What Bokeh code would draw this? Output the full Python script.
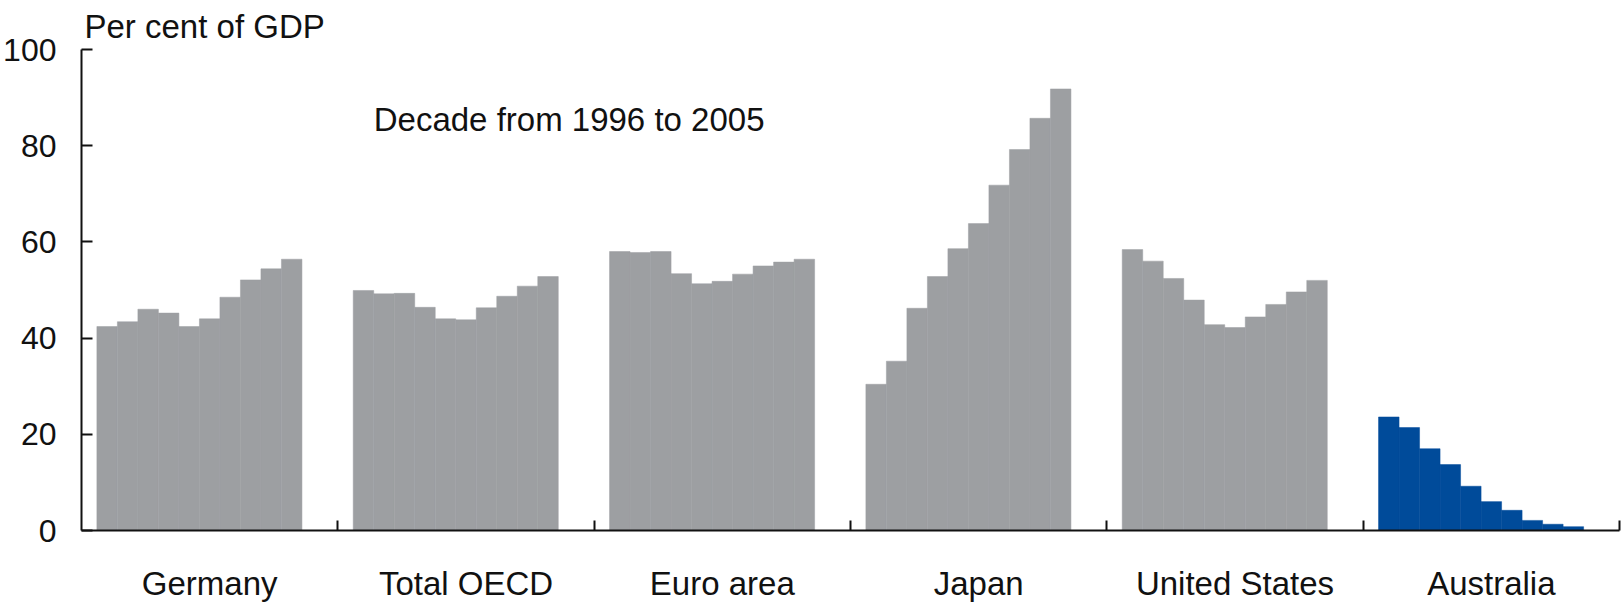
from bokeh.plotting import figure
from bokeh.models import Range1d, FixedTicker, Label, ColumnDataSource
from bokeh.embed import file_html
from bokeh.resources import INLINE

# ---- data ----
countries = ["Germany", "Total OECD", "Euro area", "Japan", "United States", "Australia"]
years = list(range(1996, 2006))
germany = [42.4, 43.4, 46.0, 45.2, 42.4, 44.0, 48.5, 52.1, 54.4, 56.4]
total_oecd = [49.9, 49.2, 49.3, 46.4, 44.0, 43.8, 46.3, 48.7, 50.8, 52.8]
euro_area = [58.0, 57.8, 58.0, 53.4, 51.3, 51.8, 53.3, 55.0, 55.8, 56.4]
japan = [30.4, 35.2, 46.2, 52.8, 58.6, 63.8, 71.8, 79.2, 85.7, 91.8]
united_states = [58.4, 56.0, 52.4, 47.9, 42.8, 42.2, 44.4, 47.0, 49.6, 52.0]
australia = [23.6, 21.4, 17.0, 13.7, 9.2, 6.0, 4.2, 2.1, 1.3, 0.8]
series = [germany, total_oecd, euro_area, japan, united_states, australia]
y_ticks = [0, 20, 40, 60, 80, 100]
unit_label = "Per cent of GDP"
note = "Decade from 1996 to 2005"

GRAY = "#9d9fa2"
BLUE = "#004b9a"
FONT = "Liberation Sans"
INK = "#111111"

# ---- layout of groups ----
slot = 12.5      # width of one country group in bar units
offset = 0.75    # gap before the first bar of a group
n_groups = len(countries)

xs, tops, colors = [], [], []
for g, vals in enumerate(series):
    for i, v in enumerate(vals):
        xs.append(g * slot + offset + i + 0.5)
        tops.append(v)
        colors.append(BLUE if countries[g] == "Australia" else GRAY)

src = ColumnDataSource(dict(x=xs, top=tops, color=colors))

p = figure(width=1621, height=604, output_backend="svg", toolbar_location=None,
           x_range=Range1d(0, n_groups * slot), y_range=Range1d(0, 100),
           min_border_left=80, min_border_right=2, min_border_top=49,
           min_border_bottom=73)
p.outline_line_color = None
p.grid.visible = False
p.background_fill_color = "white"
p.border_fill_color = "white"

p.title.text = unit_label
p.title.align = "left"
p.title.offset = 3
p.title.text_font = FONT
p.title.text_font_size = "33px"
p.title.text_font_style = "normal"
p.title.text_color = INK
p.title.standoff = 10

p.vbar(x="x", top="top", bottom=0, width=1.0, fill_color="color",
       line_color="color", line_width=0.5, source=src)

# y axis
ya = p.yaxis[0]
ya.ticker = FixedTicker(ticks=y_ticks, minor_ticks=[])
ya.major_tick_in = 11
ya.major_tick_out = 0
ya.minor_tick_line_color = None
ya.axis_line_width = 2
ya.major_tick_line_width = 2
ya.axis_line_color = INK
ya.major_tick_line_color = INK
ya.major_label_text_font = FONT
ya.major_label_text_font_size = "32px"
ya.major_label_text_color = INK
ya.major_label_standoff = 25

# x axis: labels at group centres, small ticks at group boundaries
xa = p.xaxis[0]
centers = [g * slot + slot / 2 for g in range(n_groups)]
bounds = [g * slot for g in range(1, n_groups + 1)]
xa.ticker = FixedTicker(ticks=centers, minor_ticks=bounds)
xa.major_label_overrides = {c: name for c, name in zip(centers, countries)}
xa.major_tick_line_color = None
xa.major_tick_in = 0
xa.major_tick_out = 0
xa.minor_tick_in = 10
xa.minor_tick_out = 0
xa.minor_tick_line_width = 2
xa.minor_tick_line_color = INK
xa.axis_line_width = 2
xa.axis_line_color = INK
xa.major_label_text_font = FONT
xa.major_label_text_font_size = "33px"
xa.major_label_text_color = INK
xa.major_label_standoff = 34

p.add_layout(Label(x=14.25, y=85.5, text=note, text_font=FONT,
                   text_font_size="33px", text_color=INK,
                   text_baseline="alphabetic"))

open("out.html", "w").write(file_html(p, INLINE))
